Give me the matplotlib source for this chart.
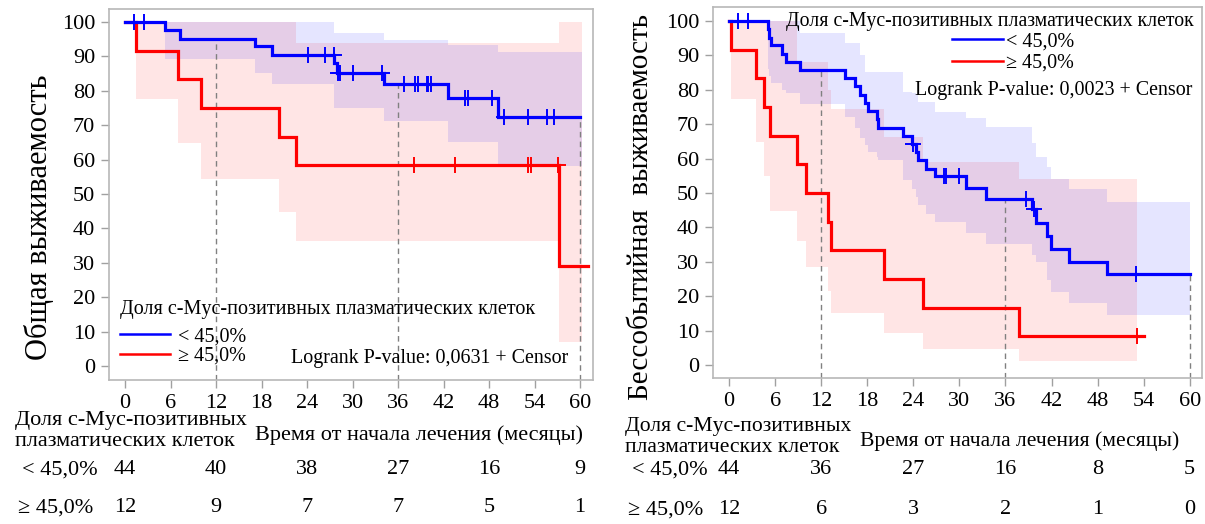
import numpy as np
import matplotlib
matplotlib.use('Agg')
import matplotlib.pyplot as plt
from matplotlib.lines import Line2D

plt.rcParams['font.family'] = ['Liberation Serif', 'DejaVu Serif']

# ---- Общая выживаемость (левый график) ----
os_blue_t = [0, 5.3, 7.2, 17.2, 19.4, 27.6, 28.0, 34.2, 42.6, 49.2]
os_blue_s = [100, 97.6, 95.2, 92.9, 90.5, 88.0, 85.3, 82.0, 77.9, 72.5]
os_blue_end = 60.0
os_blue_cens = [1.2, 2.5, 24.1, 26.4, 27.5, 28.05, 28.3, 30.0, 33.9, 36.8, 38.2, 38.7,
                39.8, 40.0, 40.4, 44.8, 45.2, 48.4, 50.0, 53.1, 55.7, 56.6]
os_blue_ci_t = [5.3, 7.2, 17.2, 19.4, 27.6, 34.2, 42.6, 49.2]
os_blue_ci_lo = [89.1, 89.1, 85.1, 82.0, 74.9, 71.2, 65.2, 58.2]
os_blue_ci_hi = [100, 100, 100, 100, 96.9, 94.9, 93.3, 91.2]
os_blue_ci_end = 60.2

os_red_t = [0, 1.45, 7.0, 10.0, 20.3, 22.5, 57.2]
os_red_s = [100, 91.7, 83.3, 75.0, 66.7, 58.3, 29.2]
os_red_end = 61.0
os_red_cens = [38.1, 43.5, 53.2, 53.5, 57.1]
os_red_ci_t = [1.45, 7.0, 10.0, 20.3, 22.5, 57.2]
os_red_ci_lo = [77.5, 64.9, 54.4, 44.8, 36.3, 6.9]
os_red_ci_hi = [100, 100, 100, 100, 94.0, 100]
os_red_ci_end = 60.2

os_risk_blue = [44, 40, 38, 27, 16, 9]
os_risk_red = [12, 9, 7, 7, 5, 1]

# ---- Бессобытийная выживаемость (правый график) ----
efs_blue_t = [0, 5.0, 5.2, 5.5, 6.9, 7.4, 9.2, 15.1, 16.4, 17.1, 17.7, 18.1, 19.2, 19.4,
              22.7, 23.8, 24.3, 24.6, 25.7, 26.8, 30.9, 33.5, 39.4, 40.0, 41.4, 41.9, 44.3, 49.2]
efs_blue_s = [100, 97.6, 95.2, 92.9, 90.5, 88.1, 85.7, 83.3, 81.0, 78.6, 76.2, 73.8, 71.4, 69.0,
              66.7, 64.3, 61.9, 59.5, 57.1, 54.8, 51.4, 48.2, 45.3, 41.4, 37.5, 33.6, 30.0, 26.4]
efs_blue_end = 60.0
efs_blue_cens = [1.1, 2.5, 24.0, 28.0, 28.3, 29.9, 38.7, 39.7, 53.0]
efs_blue_ci_t = efs_blue_t[1:]
efs_blue_ci_lo = [86, 84, 82, 80, 79, 76, 72, 69, 66, 64, 62, 60.5, 59.5,
                  53.8, 51.3, 48.9, 46.5, 43.9, 41.5, 38.3, 35.2, 32.0, 30.0, 24.7, 21.3, 17.9, 14.5]
efs_blue_ci_hi = [100, 100, 100, 100, 100, 96.4, 93.5, 93.5, 90, 85.3, 85.3, 85.3, 85.3,
                  79.4, 79.0, 78.8, 76.5, 76.5, 73.6, 71.7, 69.3, 64.4, 60.6, 57.5, 54.2, 51.2, 47.5]
efs_blue_ci_end = 60.0

efs_red_t = [0, 0.26, 3.5, 4.5, 5.3, 8.9, 10.0, 12.85, 13.3, 20.2, 25.2, 37.7]
efs_red_s = [100, 91.7, 83.3, 75.0, 66.7, 58.3, 50.0, 41.7, 33.3, 25.0, 16.7, 8.3]
efs_red_end = 54.0
efs_red_cens = [53.1]
efs_red_ci_t = efs_red_t[1:]
efs_red_ci_lo = [77.3, 64.9, 55.0, 44.8, 36.1, 28.4, 21.6, 15.2, 9.4, 4.6, 1.3]
efs_red_ci_hi = [100, 100, 100, 100, 88.2, 88.2, 80.0, 74.5, 66.4, 59.1, 54.2]
efs_red_ci_end = 53.1

efs_risk_blue = [44, 36, 27, 16, 8, 5]
efs_risk_red = [12, 6, 3, 2, 1, 0]

risk_times = [0, 12, 24, 36, 48, 60]
landmarks = [12, 36, 60]
group_labels = ['< 45,0%', '≥ 45,0%']
legend_title = 'Доля c-Myc-позитивных плазматических клеток'

BLUE = '#0000ff'
RED = '#ff0000'
W, H = 1205, 524


def surv_at(t, s, x):
    i = np.searchsorted(t, x, side='right') - 1
    return np.array(s)[i]


def draw_group(ax, t, s, end, cens, ci_t, lo, hi, ci_end, color):
    ct = list(ci_t) + [ci_end]
    ax.fill_between(ct, list(lo) + [lo[-1]], list(hi) + [hi[-1]], step='post',
                    color=color, alpha=0.1, lw=0)
    tt = list(t) + [end]
    ss = list(s) + [s[-1]]
    ax.step(tt, ss, where='post', color=color, lw=2.3, solid_joinstyle='miter')
    ax.plot(cens, surv_at(t, s, cens), ls='none', marker='+', ms=11, mew=1.4, color=color)


def setup_axes(ax, xlim, ylim):
    ax.set_xlim(*xlim)
    ax.set_ylim(*ylim)
    ax.set_xticks(np.arange(0, 61, 6))
    ax.set_yticks(np.arange(0, 101, 10))
    ax.tick_params(direction='out', length=6, width=1, color='#a0a0a0',
                   labelsize=16, pad=4)
    for sp in ax.spines.values():
        sp.set_color('#b8b8b8')
        sp.set_linewidth(1.2)


def px(x, y):
    return x / W, 1 - y / H


fig = plt.figure(figsize=(12.05, 5.24), dpi=100)
ax1 = fig.add_axes([109 / W, 1 - 380 / H, 484 / W, 371 / H])
ax2 = fig.add_axes([713 / W, 1 - 378 / H, 489 / W, 371 / H])

handles = [Line2D([], [], color=BLUE, lw=1.8), Line2D([], [], color=RED, lw=1.8)]

# левый
setup_axes(ax1, (-2.11, 61.71), (-4.07, 103.78))
ax1.vlines(landmarks, -4.07, surv_at(os_blue_t, os_blue_s, landmarks),
           colors='#808080', linestyles=(0, (4, 3)), lw=1)
draw_group(ax1, os_red_t, os_red_s, os_red_end, os_red_cens,
           os_red_ci_t, os_red_ci_lo, os_red_ci_hi, os_red_ci_end, RED)
draw_group(ax1, os_blue_t, os_blue_s, os_blue_end, os_blue_cens,
           os_blue_ci_t, os_blue_ci_lo, os_blue_ci_hi, os_blue_ci_end, BLUE)
ax1.set_ylabel('Общая выживаемость', fontsize=22)
ax1.yaxis.set_label_coords(-0.113, 0.44)

leg1 = ax1.legend(handles, group_labels, title=legend_title, loc='upper left',
                  bbox_to_anchor=(0.022, 0.216), frameon=False, fontsize=14.5,
                  title_fontsize=14.5, handlelength=2.5, handletextpad=0.4,
                  labelspacing=0.02, borderpad=0, borderaxespad=0, alignment='left')
leg1._legend_box.sep = 6
ax1.text(0.948, 0.059, 'Logrank P-value: 0,0631 + Censor', transform=ax1.transAxes,
         ha='right', va='center', fontsize=14.4)

# правый
setup_axes(ax2, (-2.1, 61.6), (-3.78, 104.07))
ax2.vlines(landmarks, -3.78, surv_at(efs_blue_t, efs_blue_s, landmarks),
           colors='#808080', linestyles=(0, (4, 3)), lw=1)
draw_group(ax2, efs_red_t, efs_red_s, efs_red_end, efs_red_cens,
           efs_red_ci_t, efs_red_ci_lo, efs_red_ci_hi, efs_red_ci_end, RED)
draw_group(ax2, efs_blue_t, efs_blue_s, efs_blue_end, efs_blue_cens,
           efs_blue_ci_t, efs_blue_ci_lo, efs_blue_ci_hi, efs_blue_ci_end, BLUE)
ax2.set_ylabel('Бессобытийная  выживаемость', fontsize=21)
ax2.yaxis.set_label_coords(-0.121, 0.462)

ax2.text(0.982, 0.962, legend_title, transform=ax2.transAxes,
         ha='right', va='center', fontsize=14.2)
leg2 = ax2.legend(handles, group_labels, loc='upper left',
                  bbox_to_anchor=((952 - 713) / 489, (378 - 32) / 371), frameon=False,
                  fontsize=14.5, handlelength=2.55, handletextpad=0.15,
                  labelspacing=0.12, borderpad=0, borderaxespad=0)
ax2.text(0.98, 0.774, 'Logrank P-value: 0,0023 + Censor', transform=ax2.transAxes,
         ha='right', va='center', fontsize=14.4)

# таблицы числа пациентов под риском
tables = [
    (ax1, os_risk_blue, os_risk_red, 15, 420, 442, 255, 435, 470, 508, 16),
    (ax2, efs_risk_blue, efs_risk_red, 625, 426, 448, 860, 441, 470, 510, 15.6),
]
for ax, rb, rr, hx, hy1, hy2, tx, ty, ry1, ry2, fs in tables:
    fig.text(*px(hx, hy1), 'Доля c-Myc-позитивных', fontsize=fs, va='center', ha='left')
    fig.text(*px(hx, hy2), 'плазматических клеток', fontsize=fs, va='center', ha='left')
    fig.text(*px(tx, ty), 'Время от начала лечения (месяцы)', fontsize=fs, va='center', ha='left')
    fig.text(*px(hx + 7, ry1), group_labels[0], fontsize=16, va='center', ha='left')
    fig.text(*px(hx + 3, ry2), group_labels[1], fontsize=16, va='center', ha='left')
    for tm, nb, nr in zip(risk_times, rb, rr):
        xd = ax.transData.transform((tm, 0))[0]
        xf = fig.transFigure.inverted().transform((xd, 0))[0]
        fig.text(xf, 1 - ry1 / H, str(nb), fontsize=16, va='center', ha='center')
        fig.text(xf, 1 - ry2 / H, str(nr), fontsize=16, va='center', ha='center')

fig.savefig('out.png', dpi=100)
